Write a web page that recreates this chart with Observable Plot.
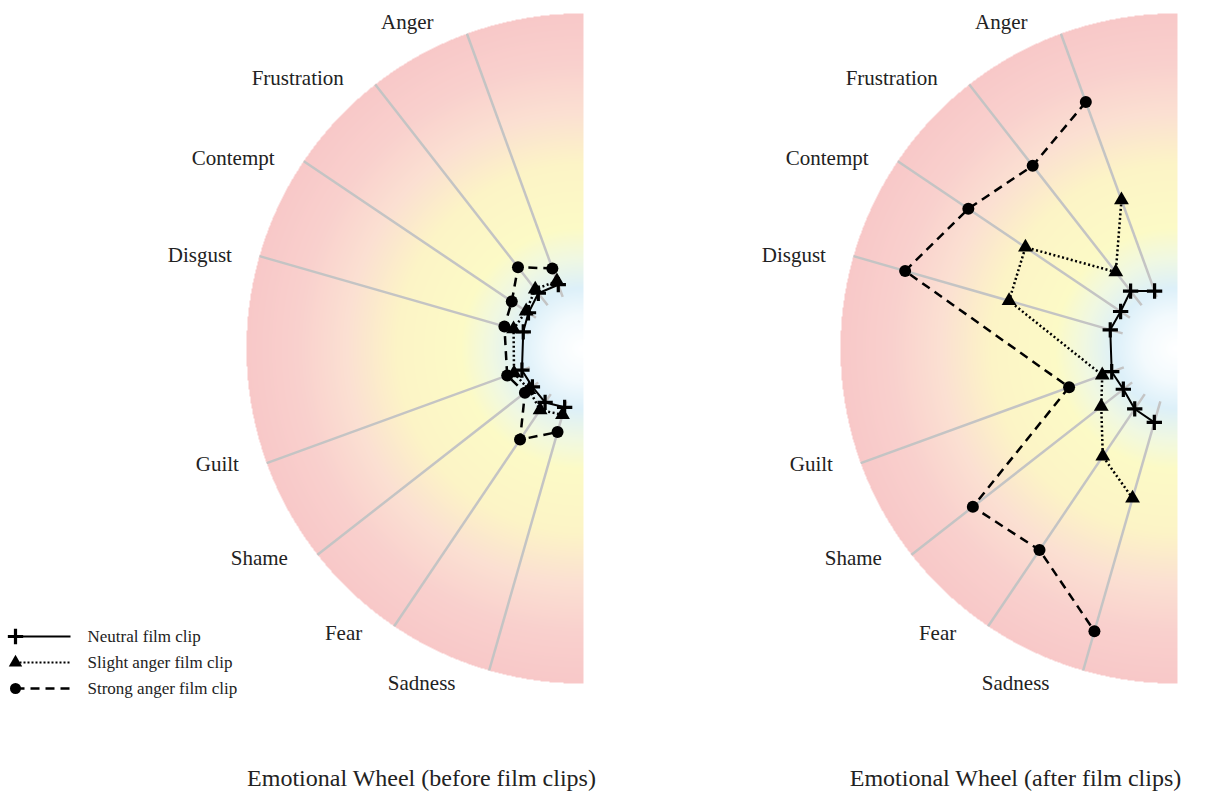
<!DOCTYPE html>
<html>
<head>
<meta charset="utf-8">
<script src="https://cdn.jsdelivr.net/npm/d3@7"></script>
<script src="https://cdn.jsdelivr.net/npm/@observablehq/plot@0.6"></script>
<style>
  html, body { margin: 0; padding: 0; background: #fff; }
  #chart svg { display: block; }
</style>
</head>
<body>
<div id="chart"></div>
<script>
// ---------- DATA ----------
// wheel slots, top to bottom (one unlabeled slot without a spoke)
const slots = ["Anger", "Frustration", "Contempt", "Disgust", "", "Guilt", "Shame", "Fear", "Sadness"];
const emotions = slots.filter(d => d);
const wheels = ["Emotional Wheel (before film clips)", "Emotional Wheel (after film clips)"];
const series = ["Neutral film clip", "Slight anger film clip", "Strong anger film clip"];

// intensity (0 = inner ring, 5 = outer rim), order = emotions
const neutralBefore = [0.23, 0.27, 0.16, 0.10, 0.15, 0.13, 0.18, 0.11];
const slightBefore  = [0.30, 0.36, 0.21, 0.28, 0.30, 0.21, 0.34, 0.25];
const strongBefore  = [0.54, 0.86, 0.52, 0.45, 0.43, 0.30, 0.98, 0.57];

const neutralAfter  = [0.11, 0.32, 0.20, 0.23, 0.23, 0.20, 0.32, 0.39];
const slightAfter   = [1.84, 0.75, 2.25, 2.11, 0.41, 0.70, 1.34, 1.80];
const strongAfter   = [3.70, 3.16, 3.48, 4.04, 1.04, 3.61, 3.36, 4.27];

// ---------- LAYOUT ----------
const W = 1213, H = 792;
const CX = [581, 1175], CY = 348;   // wheel centres
const R0 = 55, R = 335;             // inner ring / rim radius
const FONT = "'Liberation Serif', 'Times New Roman', serif";

const angle = d3.scalePoint(slots, [20, 164]);      // degrees from 12 o'clock, counter-clockwise
const radius = d3.scaleLinear([0, 5], [R0, R]);
const polar = (w, deg, r) => {
  const a = deg * Math.PI / 180;
  return [CX[w] - r * Math.sin(a), CY - r * Math.cos(a)];
};

const sets = [[neutralBefore, slightBefore, strongBefore], [neutralAfter, slightAfter, strongAfter]];
const rows = [];
sets.forEach((set, w) => set.forEach((vals, s) => vals.forEach((v, i) => {
  const [x, y] = polar(w, angle(emotions[i]), radius(v));
  rows.push({wheel: wheels[w], series: series[s], emotion: emotions[i], value: v, x, y});
})));

const spokes = [];
const labels = [];
wheels.forEach((wh, w) => emotions.forEach(e => {
  const a = angle(e);
  const [x1, y1] = polar(w, a, R0);
  const [x2, y2] = polar(w, a, R);
  spokes.push({wheel: wh, emotion: e, x1, y1, x2, y2});
  const [lx, ly] = polar(w, 90 + (a - 90) * 0.95, 356);
  labels.push({wheel: wh, emotion: e, x: lx, y: ly});
}));

const captions = wheels.map((t, w) => ({text: t, x: CX[w] - 160, y: 778}));
const legend = series.map((s, i) => ({series: s, y: 636 + 26 * i}));

const bySeries = s => rows.filter(d => d.series === s);

const chart = Plot.plot({
  width: W,
  height: H,
  margin: 0,
  x: {domain: [0, W], range: [0, W], axis: null},
  y: {domain: [0, H], range: [0, H], axis: null},
  color: {
    type: "linear",
    domain: [0, 0.10, 0.18, 0.27, 0.36, 0.55, 0.70, 0.85, 1],
    range: ["#ffffff", "#f3fafd", "#ddf0f9", "#f0f8e2", "#fcfac6", "#fcf4c6", "#fbe0d2", "#f9d0cd", "#f8c8c8"],
    interpolate: "rgb",
    legend: false
  },
  style: {fontFamily: FONT, background: "#fff"},
  marks: [
    // gradient half-discs
    Plot.raster({
      x1: 0, y1: 0, x2: W, y2: H, pixelSize: 1,
      fill: (x, y) => {
        for (const cx of CX) {
          if (x <= cx + 2) {
            const d = Math.hypot(x - cx, y - CY);
            if (d <= R) return d / R;
          }
        }
        return NaN;
      }
    }),
    // spokes
    Plot.link(spokes, {x1: "x1", y1: "y1", x2: "x2", y2: "y2", stroke: "#c4c4c4", strokeWidth: 2.5}),
    // emotion labels
    Plot.text(labels, {x: "x", y: "y", text: "emotion", textAnchor: "end", dx: -6, fontSize: 21, fill: "#222"}),
    // profiles
    Plot.line(bySeries(series[0]), {x: "x", y: "y", z: "wheel", stroke: "#000", strokeWidth: 2}),
    Plot.line(bySeries(series[1]), {x: "x", y: "y", z: "wheel", stroke: "#000", strokeWidth: 2.5, strokeDasharray: "2,2.5", strokeLinecap: "butt"}),
    Plot.line(bySeries(series[2]), {x: "x", y: "y", z: "wheel", stroke: "#000", strokeWidth: 2.5, strokeDasharray: "9,6", strokeLinecap: "butt"}),
    Plot.dot(bySeries(series[0]), {x: "x", y: "y", symbol: "plus", r: 5, stroke: "#000", strokeWidth: 3.2}),
    Plot.dot(bySeries(series[1]), {x: "x", y: "y", symbol: "triangle", r: 5.5, fill: "#000"}),
    Plot.dot(bySeries(series[2]), {x: "x", y: "y", symbol: "circle", r: 6, fill: "#000"}),
    // legend
    Plot.link([legend[0]], {x1: () => 15, x2: () => 70, y1: "y", y2: "y", stroke: "#000", strokeWidth: 2}),
    Plot.link([legend[1]], {x1: () => 15, x2: () => 70, y1: "y", y2: "y", stroke: "#000", strokeWidth: 2, strokeDasharray: "2,2", strokeLinecap: "butt"}),
    Plot.link([legend[2]], {x1: () => 15, x2: () => 70, y1: "y", y2: "y", stroke: "#000", strokeWidth: 2.5, strokeDasharray: "9,6", strokeLinecap: "butt"}),
    Plot.dot([legend[0]], {x: () => 15, y: "y", symbol: "plus", r: 5, stroke: "#000", strokeWidth: 3.2}),
    Plot.dot([legend[1]], {x: () => 15, y: "y", symbol: "triangle", r: 5, fill: "#000"}),
    Plot.dot([legend[2]], {x: () => 15, y: "y", symbol: "circle", r: 5.5, fill: "#000"}),
    Plot.text(legend, {x: () => 87, y: "y", text: "series", textAnchor: "start", fontSize: 17, fill: "#222"}),
    // captions
    Plot.text(captions, {x: "x", y: "y", text: "text", textAnchor: "middle", fontSize: 24, fill: "#222"})
  ]
});

document.getElementById("chart").appendChild(chart);
</script>
</body>
</html>
